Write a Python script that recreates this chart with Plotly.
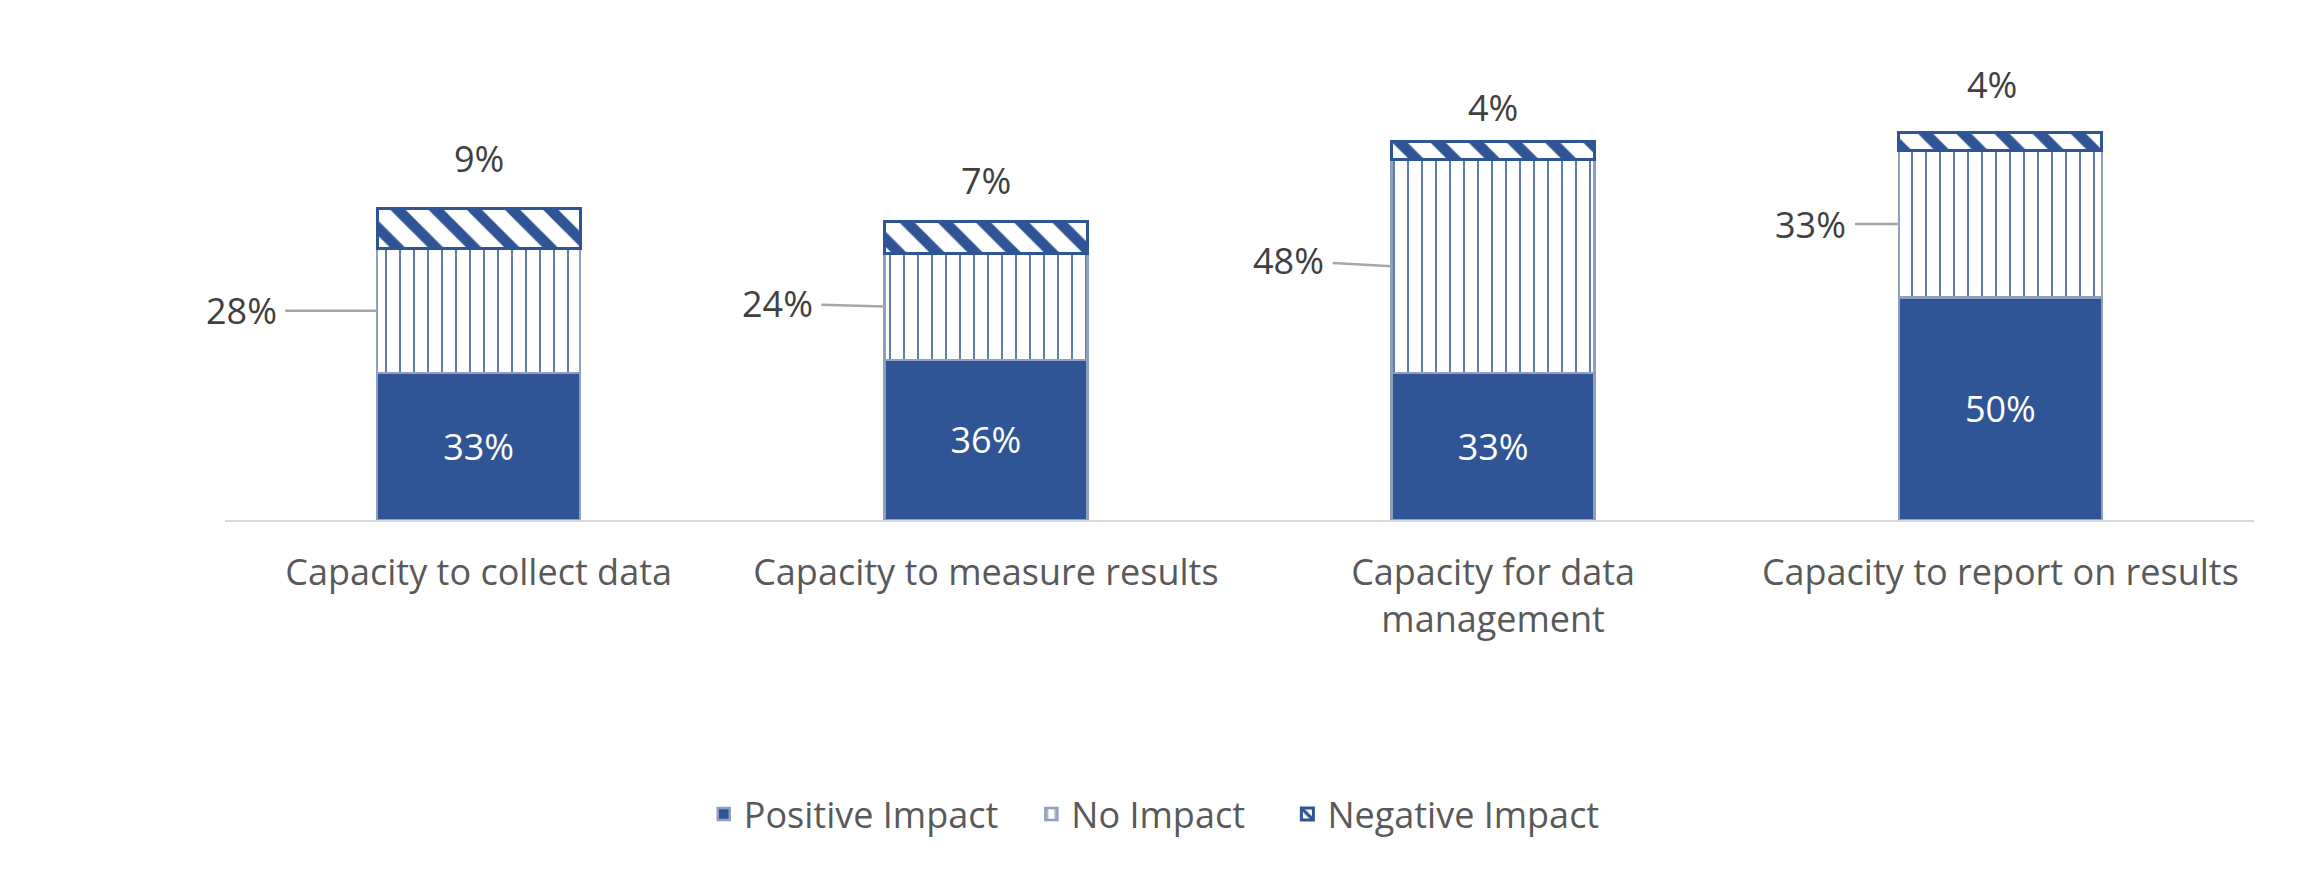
import plotly.graph_objects as go

categories = ["Capacity to collect data", "Capacity to measure results",
              "Capacity for data<br>management", "Capacity to report on results"]
positive = [33, 36, 33, 50]
no_impact = [28, 24, 48, 33]
negative = [9, 7, 4, 4]
series_names = ["Positive Impact", "No Impact", "Negative Impact"]

BLUE = "#2F5597"
EDGE = "#8EA0BE"
FONT = "Open Sans"
FS = 36
legend_pad = ["\u00a0" * 3, "\u00a0" * 4, ""]  # legend spacing

fig = go.Figure()
fig.add_trace(go.Bar(
    x=categories, y=positive, name=series_names[0] + legend_pad[0],
    marker=dict(color=BLUE, line=dict(color=EDGE, width=2.5)),
    text=[f"{v}%" for v in positive], textposition="inside",
    insidetextanchor="middle", textfont=dict(color="white", size=FS, family=FONT),
    constraintext="none", hoverinfo="skip"))
fig.add_trace(go.Bar(
    x=categories, y=no_impact, name=series_names[1] + legend_pad[1],
    marker=dict(color="white", line=dict(color=EDGE, width=2.5),
                pattern=dict(shape="|", fgcolor=BLUE, bgcolor="white",
                             fgopacity=1, size=14, solidity=0.11)),
    hoverinfo="skip"))
fig.add_trace(go.Bar(
    x=categories, y=negative, name=series_names[2] + legend_pad[2],
    marker=dict(color="white", line=dict(color=BLUE, width=3),
                pattern=dict(shape="\\", fgcolor=BLUE, bgcolor="white",
                             fgopacity=1, size=27, solidity=0.4)),
    hoverinfo="skip"))

# label offsets (style)
no_ax = [-136, -107, -103, -88]
no_ay = [0, -3, -6, 0]
neg_yshift = [50, 41, 34, 48]
neg_xshift = [0, 0, 0, -8]
half_w = 0.2

annotations = []
for i in range(len(categories)):
    annotations.append(dict(
        x=i - half_w, y=positive[i] + no_impact[i] / 2, xref="x", yref="y",
        text=f"{no_impact[i]}%", showarrow=True, arrowhead=0, arrowwidth=2.5,
        arrowcolor="#A6A6A6", ax=no_ax[i], ay=no_ay[i], borderpad=8,
        font=dict(size=FS, family=FONT, color="#404040")))
    annotations.append(dict(
        x=i, y=positive[i] + no_impact[i] + negative[i], xref="x", yref="y",
        text=f"{negative[i]}%", showarrow=False, yanchor="middle",
        yshift=neg_yshift[i], xshift=neg_xshift[i],
        font=dict(size=FS, family=FONT, color="#404040")))

fig.update_layout(
    barmode="stack", bargap=0.6,
    width=2305, height=869,
    margin=dict(l=217, r=59, t=67, b=357),
    paper_bgcolor="white", plot_bgcolor="white",
    font=dict(family=FONT, size=FS, color="#595959"),
    showlegend=True,
    legend=dict(orientation="h", x=0.458, xanchor="center", y=-0.661,
                yanchor="middle", font=dict(size=FS, color="#595959"),
                itemwidth=30, traceorder="normal"),
    annotations=annotations,
)
fig.update_xaxes(range=[-0.5, 3.5], showline=True, linecolor="#D9D9D9",
                 linewidth=2, showgrid=False, ticks="", ticklabelstandoff=20,
                 tickfont=dict(size=FS, color="#595959", family=FONT))
fig.update_yaxes(range=[0, 100], visible=False, showgrid=False)

fig.write_html("out.html")
